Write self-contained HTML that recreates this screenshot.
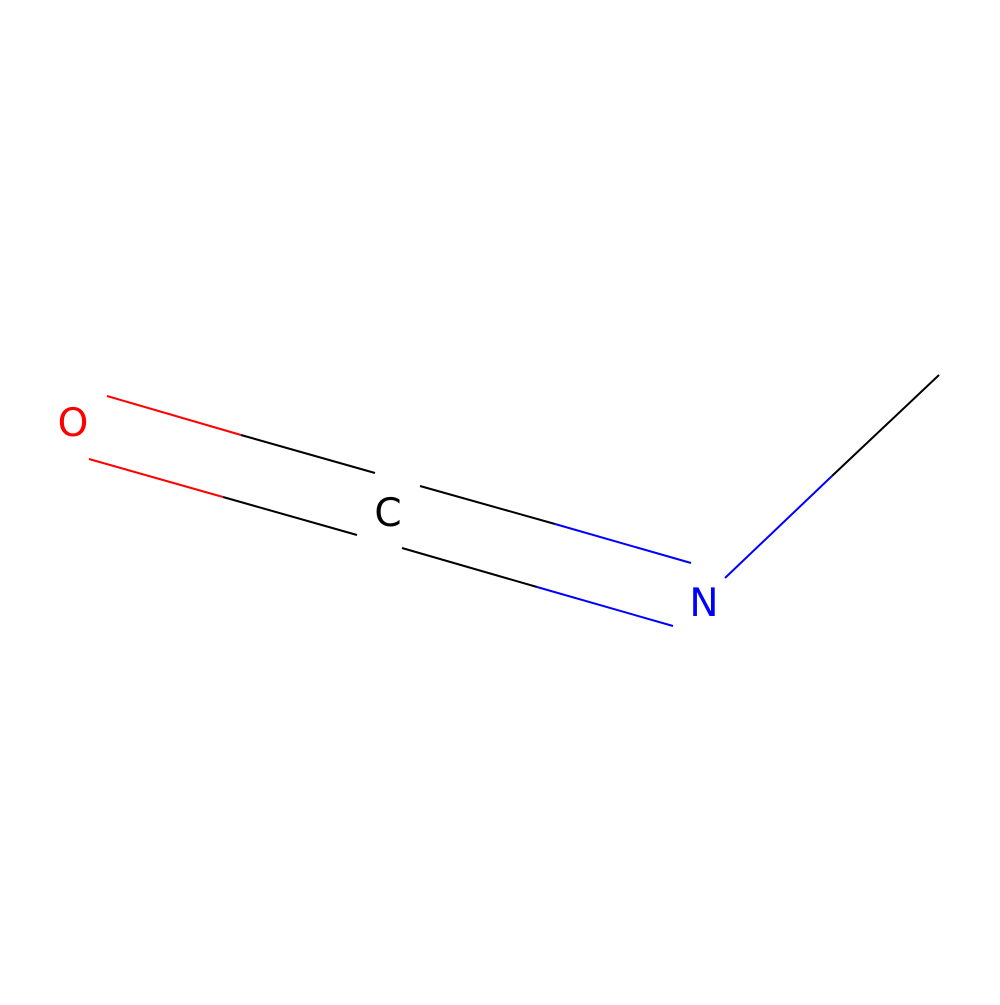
<!DOCTYPE html>
<html><head><meta charset="utf-8"><style>html,body{margin:0;padding:0;background:#fff}</style></head>
<body>
<svg width="1000" height="1000" viewBox="0 0 1000 1000" xmlns="http://www.w3.org/2000/svg">
<rect width="1000" height="1000" fill="#fff"/>
<g stroke-width="2" fill="none" stroke-linecap="butt">
<g>
<line x1="107" y1="396" x2="241" y2="435" stroke="#FF0000"/>
<line x1="241" y1="435" x2="375" y2="473" stroke="#000"/>
<line x1="89" y1="459" x2="223" y2="497" stroke="#FF0000"/>
<line x1="223" y1="497" x2="357" y2="535" stroke="#000"/>
</g>
<g>
<line x1="420" y1="486" x2="555" y2="524" stroke="#000"/>
<line x1="555" y1="524" x2="691" y2="563" stroke="#0000FF"/>
<line x1="402" y1="548" x2="537" y2="587" stroke="#000"/>
<line x1="537" y1="587" x2="673" y2="626" stroke="#0000FF"/>
</g>
<g>
<line x1="725" y1="578" x2="832" y2="476" stroke="#0000FF"/>
<line x1="832" y1="476" x2="939" y2="375" stroke="#000"/>
</g>
</g>
<g font-family="'DejaVu Sans', 'Liberation Sans', sans-serif" font-size="39" text-anchor="middle">
<text x="73" y="436" fill="#FF0000">O</text>
<text x="388" y="526" fill="#000">C</text>
<text x="704" y="616" fill="#0000FF">N</text>
</g>
</svg>
</body></html>
